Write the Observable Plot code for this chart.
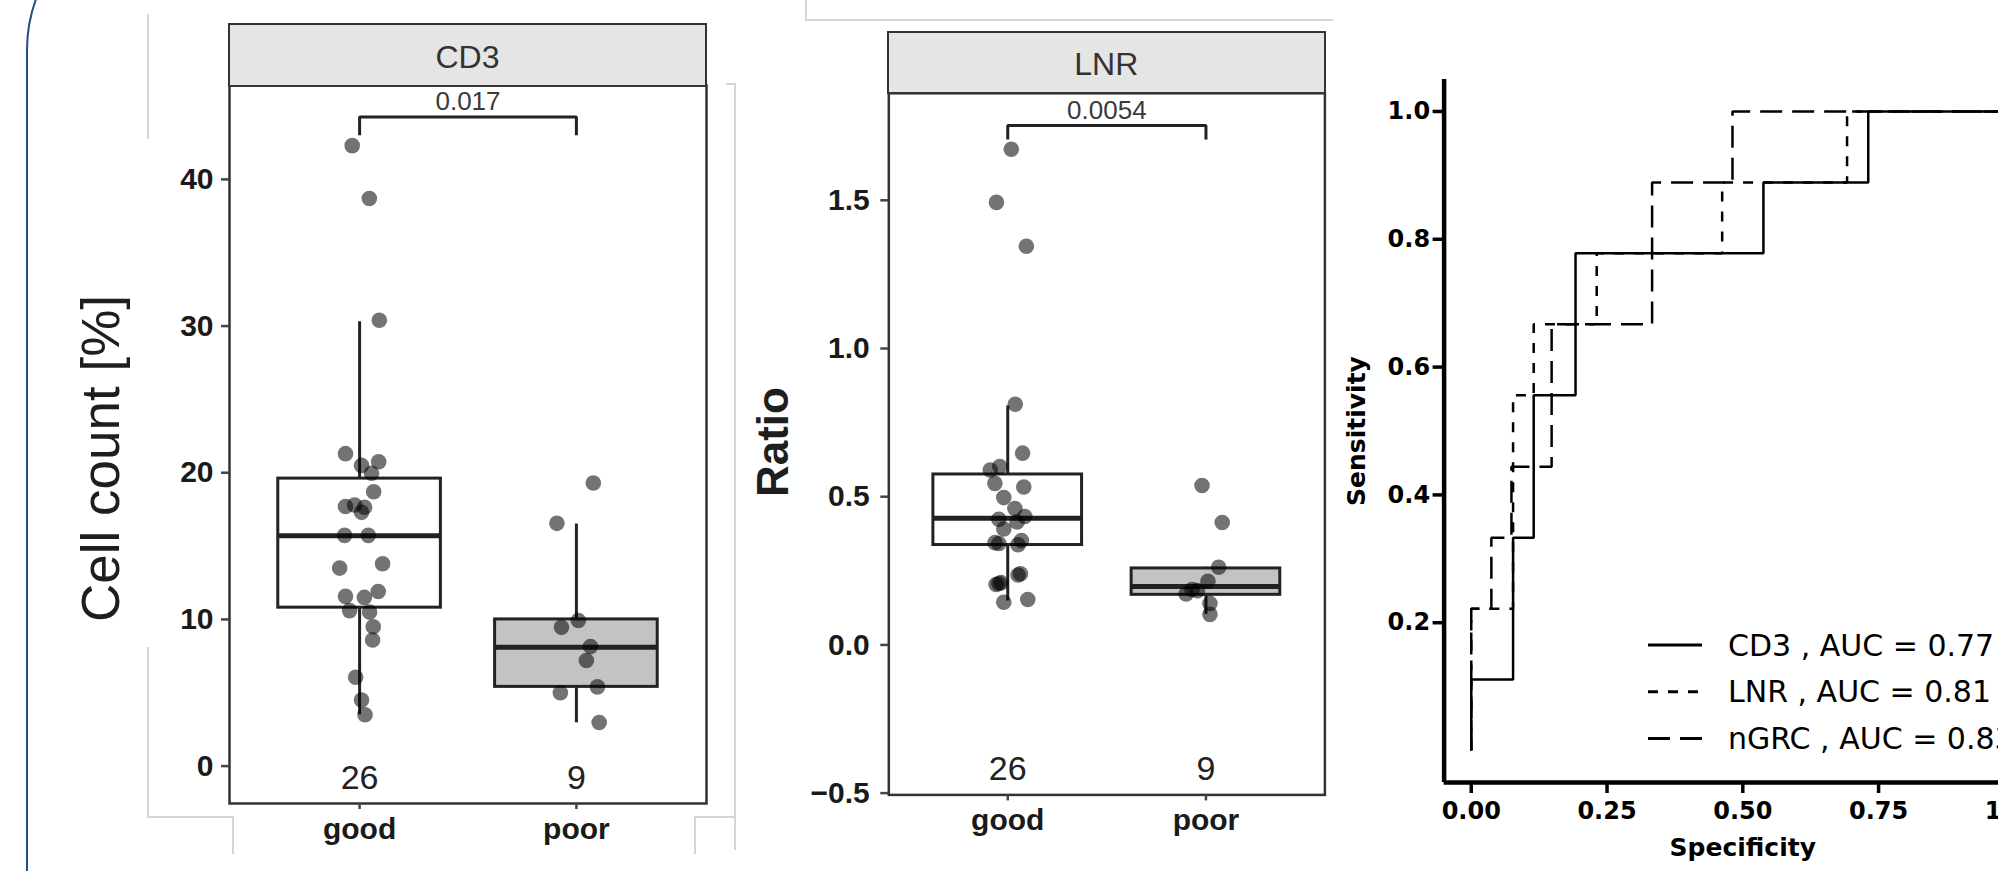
<!DOCTYPE html>
<html>
<head>
<meta charset="utf-8">
<script src="https://cdn.jsdelivr.net/npm/d3@7"></script>
<script src="https://cdn.jsdelivr.net/npm/@observablehq/plot@0.6"></script>
<style>
  html, body { margin: 0; padding: 0; background: #fff; }
  body { width: 1998px; height: 871px; overflow: hidden; position: relative; font-family: "Liberation Sans", Arial, sans-serif; }
  .abs { position: absolute; }
  .strip { position: absolute; box-sizing: border-box; background: #e5e5e5; border: 2.5px solid #333;
           display: flex; align-items: center; justify-content: center; font-size: 32px; color: #333; padding-top: 5px; }
  .faint { position: absolute; background: #d6d6d6; }
  .frameblue { position: absolute; left: 25.5px; top: -100px; width: 3000px; height: 1300px; box-sizing: border-box;
               border: 2.5px solid #1f4d8a; border-radius: 150px; }
</style>
</head>
<body>
<div class="frameblue"></div>
<!-- faint background frame fragments -->
<div class="faint" style="left:147px;top:14px;width:1.5px;height:125px"></div>
<div class="faint" style="left:147px;top:647px;width:1.5px;height:170px"></div>
<div class="faint" style="left:147px;top:816px;width:86px;height:1.5px"></div>
<div class="faint" style="left:232px;top:816px;width:1.5px;height:38px"></div>
<div class="faint" style="left:694px;top:816px;width:41px;height:1.5px"></div>
<div class="faint" style="left:694px;top:816px;width:1.5px;height:38px"></div>
<div class="faint" style="left:726px;top:83px;width:9px;height:1.5px"></div>
<div class="faint" style="left:734px;top:83px;width:1.5px;height:767px"></div>
<div class="faint" style="left:805px;top:0px;width:1.5px;height:20px"></div>
<div class="faint" style="left:805px;top:19px;width:528px;height:1.5px"></div>

<div id="p1" class="abs" style="left:0px;top:0px;width:740px;height:871px"></div>
<div id="p2" class="abs" style="left:740px;top:0px;width:600px;height:871px"></div>
<div id="p3" class="abs" style="left:1300px;top:0px;width:761px;height:871px"></div>
<div class="strip" style="left:227.75px;top:23px;width:479.5px;height:63.5px">CD3</div>
<div class="strip" style="left:887px;top:30.5px;width:438.6px;height:63.5px">LNR</div>
<div id="legend" class="abs" style="left:1600px;top:600px;width:420px;height:180px"></div>

<script>
// ---------------- data ----------------
const groups = ["good", "poor"];
const counts = [26, 9];

// CD3 panel (Cell count [%])
const cd3GoodValues = [42.3, 38.7, 30.4, 21.3, 20.5, 20.75, 19.96, 18.7, 17.7, 17.8, 17.65, 17.3, 15.73, 15.73, 13.5, 13.8, 11.57, 11.5, 11.9, 10.6, 10.5, 9.5, 8.6, 6.06, 4.5, 3.5];
const cd3GoodJitter = [-0.034, 0.045, 0.091, -0.065, 0.009, 0.088, 0.055, 0.065, -0.065, -0.023, 0.023, 0.009, -0.069, 0.040, -0.092, 0.106, -0.065, 0.022, 0.086, -0.046, 0.046, 0.063, 0.060, -0.018, 0.009, 0.025];
const cd3PoorValues = [19.3, 16.55, 9.46, 9.93, 8.15, 7.2, 5.0, 5.4, 2.97];
const cd3PoorJitter = [0.078, -0.090, -0.069, 0.009, 0.065, 0.046, -0.074, 0.097, 0.105];
const cd3Low = [3.5, 2.95];
const cd3Q1 = [10.8, 5.4];
const cd3Median = [15.7, 8.1];
const cd3Q3 = [19.6, 10.0];
const cd3High = [30.3, 16.5];
const cd3YTicks = [0, 10, 20, 30, 40];
const cd3PValue = "0.017";
const cd3Bracket = [43.0, 44.26];   // tip, bar
const cd3PLabelY = 45.33;
const cd3CountY = -0.85;

// LNR panel (Ratio)
const lnrGoodValues = [1.672, 1.493, 1.345, 0.812, 0.647, 0.590, 0.602, 0.545, 0.533, 0.497, 0.460, 0.433, 0.424, 0.391, 0.415, 0.342, 0.352, 0.338, 0.240, 0.207, 0.204, 0.144, 0.153, 0.345, 0.236, 0.210];
const lnrGoodJitter = [0.018, -0.057, 0.094, 0.038, 0.075, -0.088, -0.040, -0.065, 0.081, -0.020, 0.036, 0.086, -0.045, -0.020, 0.047, -0.045, 0.069, 0.052, 0.064, -0.045, -0.059, -0.020, 0.101, -0.064, 0.052, -0.034];
const lnrPoorValues = [0.538, 0.413, 0.262, 0.215, 0.187, 0.172, 0.183, 0.140, 0.103];
const lnrPoorJitter = [-0.020, 0.082, 0.064, 0.010, -0.070, -0.100, -0.043, 0.020, 0.020];
const lnrLow = [0.148, 0.103];
const lnrQ1 = [0.337, 0.169];
const lnrMedian = [0.427, 0.197];
const lnrQ3 = [0.575, 0.258];
const lnrHigh = [0.806, 0.262];
const lnrYTicks = [-0.5, 0, 0.5, 1.0, 1.5];
const lnrPValue = "0.0054";
const lnrBracket = [1.705, 1.752];
const lnrPLabelY = 1.803;
const lnrCountY = -0.42;

// ROC curves (corner points of the step functions)
const cd3Spec  = [0, 0, 0.077, 0.077, 0.115, 0.115, 0.192, 0.192, 0.538, 0.538, 0.731, 0.731, 1.0];
const cd3Sens  = [0, 0.111, 0.111, 0.333, 0.333, 0.556, 0.556, 0.778, 0.778, 0.889, 0.889, 1.0, 1.0];
const lnrSpec  = [0, 0, 0.077, 0.077, 0.115, 0.115, 0.231, 0.231, 0.462, 0.462, 0.692, 0.692, 1.0];
const lnrSens  = [0, 0.222, 0.222, 0.556, 0.556, 0.667, 0.667, 0.778, 0.778, 0.889, 0.889, 1.0, 1.0];
const ngrcSpec = [0, 0, 0.037, 0.037, 0.074, 0.074, 0.148, 0.148, 0.333, 0.333, 0.481, 0.481, 1.0];
const ngrcSens = [0, 0.222, 0.222, 0.333, 0.333, 0.444, 0.444, 0.667, 0.667, 0.889, 0.889, 1.0, 1.0];
const rocXTicks = [0, 0.25, 0.5, 0.75, 1.0];
const rocYTicks = [0.2, 0.4, 0.6, 0.8, 1.0];
const legendLabels = ["CD3 , AUC = 0.77", "LNR , AUC = 0.81", "nGRC , AUC = 0.83"];

// ---------------- styles ----------------
const sansFont = "'Liberation Sans', Arial, sans-serif";
const rocFont = "'DejaVu Sans', sans-serif";
const boxFill = ["#ffffff", "#c3c3c3"];
const halfBox = 0.375;
const dashes = [null, "10,10", "22,10"];

function boxPanel(cfg) {
  const pts = [];
  cfg.values.forEach((vals, g) => vals.forEach((v, i) => pts.push({x: g + 1 + cfg.jitter[g][i], y: v})));
  const rows = groups.map((g, i) => ({pos: i + 1, lo: cfg.lo[i], q1: cfg.q1[i], med: cfg.med[i], q3: cfg.q3[i], hi: cfg.hi[i]}));
  const bracket = [
    {x: 1, y: cfg.bracket[0]}, {x: 1, y: cfg.bracket[1]},
    {x: 2, y: cfg.bracket[1]}, {x: 2, y: cfg.bracket[0]}
  ];
  return Plot.plot({
    width: cfg.width, height: 871,
    marginLeft: cfg.ml, marginRight: cfg.mr, marginTop: cfg.mt, marginBottom: cfg.mb,
    style: {background: "transparent", maxWidth: "none", fontFamily: sansFont, overflow: "visible"},
    x: {domain: [0.4, 2.6]},
    y: {domain: cfg.yDomain},
    marks: [
      Plot.ruleX(rows, {x: "pos", y1: "lo", y2: "hi", stroke: "#222", strokeWidth: 3}),
      ...rows.map((r, i) => Plot.rect([r], {
        x1: d => d.pos - halfBox, x2: d => d.pos + halfBox, y1: "q1", y2: "q3",
        fill: boxFill[i], stroke: "#222", strokeWidth: 3
      })),
      Plot.ruleY(rows, {x1: d => d.pos - halfBox, x2: d => d.pos + halfBox, y: "med", stroke: "#222", strokeWidth: 5}),
      Plot.dot(pts, {x: "x", y: "y", r: 7.8, fill: "#000", fillOpacity: 0.55, stroke: "none"}),
      Plot.line(bracket, {x: "x", y: "y", stroke: "#222", strokeWidth: 3, strokeLinejoin: "miter", strokeLinecap: "butt"}),
      Plot.text([cfg.pValue], {x: 1.5, y: cfg.pLabelY, text: d => d, fontSize: 26, fill: "#3a3a3a", fontFamily: sansFont}),
      Plot.text(groups, {x: (d, i) => i + 1, y: cfg.countY, text: (d, i) => String(counts[i]), fontSize: 34, fill: "#222", fontFamily: sansFont}),
      Plot.frame({stroke: "#333", strokeWidth: 2.5}),
      Plot.axisY({ticks: cfg.yTicks, tickFormat: cfg.yFormat, tickSize: 8, tickPadding: cfg.yPad,
        stroke: "#444", strokeWidth: 2.5, fill: "#1a1a1a", fontWeight: "bold", fontSize: 30, fontFamily: sansFont, label: null}),
      Plot.axisX({ticks: [1, 2], tickFormat: d => groups[d - 1], tickSize: 6, tickPadding: 8,
        stroke: "#444", strokeWidth: 2.5, fill: "#1a1a1a", fontWeight: "bold", fontSize: 30, fontFamily: sansFont, label: null}),
      Plot.text([cfg.yLabel], {frameAnchor: "left", dx: cfg.yLabelDx, dy: cfg.yLabelDy, rotate: -90, text: d => d,
        textAnchor: "middle", lineAnchor: "middle",
        fontSize: cfg.yLabelSize, fontWeight: cfg.yLabelWeight, fill: "#1e1e1e", fontFamily: sansFont})
    ]
  });
}

document.getElementById("p1").appendChild(boxPanel({
  width: 740, ml: 229, mr: 34, mt: 85, mb: 68,
  values: [cd3GoodValues, cd3PoorValues], jitter: [cd3GoodJitter, cd3PoorJitter],
  lo: cd3Low, q1: cd3Q1, med: cd3Median, q3: cd3Q3, hi: cd3High,
  yDomain: [-2.55, 46.4], yTicks: cd3YTicks, yFormat: d3.format("d"), yPad: 8,
  pValue: cd3PValue, bracket: cd3Bracket, pLabelY: cd3PLabelY, countY: cd3CountY,
  yLabel: "Cell count [%]", yLabelDx: -127, yLabelDy: 14, yLabelSize: 53, yLabelWeight: "normal"
}));

document.getElementById("p2").appendChild(boxPanel({
  width: 600, ml: 148.3, mr: 15.6, mt: 92.8, mb: 76.6,
  values: [lnrGoodValues, lnrPoorValues], jitter: [lnrGoodJitter, lnrPoorJitter],
  lo: lnrLow, q1: lnrQ1, med: lnrMedian, q3: lnrQ3, hi: lnrHigh,
  yDomain: [-0.506, 1.861], yTicks: lnrYTicks, yFormat: d3.format(".1f"), yPad: 11,
  pValue: lnrPValue, bracket: lnrBracket, pLabelY: lnrPLabelY, countY: lnrCountY,
  yLabel: "Ratio", yLabelDx: -114.7, yLabelDy: -2, yLabelSize: 44, yLabelWeight: "bold"
}));

// ---------------- ROC ----------------
const rocSeries = [
  {spec: cd3Spec, sens: cd3Sens},
  {spec: lnrSpec, sens: lnrSens},
  {spec: ngrcSpec, sens: ngrcSens}
];
const rocDomain = [-0.05, 1.05];
document.getElementById("p3").appendChild(Plot.plot({
  width: 761, height: 871, marginLeft: 143.6, marginRight: 20, marginTop: 79, marginBottom: 89,
  style: {background: "transparent", maxWidth: "none", fontFamily: rocFont, overflow: "visible"},
  x: {domain: rocDomain},
  y: {domain: rocDomain},
  marks: [
    ...rocSeries.map((s, k) => Plot.line(s.spec.map((v, i) => ({x: v, y: s.sens[i]})), {
      x: "x", y: "y", stroke: "#000", strokeWidth: 2.5, strokeDasharray: dashes[k],
      strokeLinecap: "butt", strokeLinejoin: "miter"
    })),
    Plot.ruleX([rocDomain[0]], {stroke: "#000", strokeWidth: 4.5}),
    Plot.ruleY([rocDomain[0]], {stroke: "#000", strokeWidth: 4.5}),
    Plot.axisY({ticks: rocYTicks, tickFormat: d3.format(".1f"), tickSize: 11, tickPadding: 3,
      stroke: "#000", strokeWidth: 3.5, fill: "#000", fontWeight: "bold", fontSize: 24, fontFamily: rocFont, label: null}),
    Plot.axisX({ticks: rocXTicks, tickFormat: d3.format(".2f"), tickSize: 11, tickPadding: 8,
      stroke: "#000", strokeWidth: 3.5, fill: "#000", fontWeight: "bold", fontSize: 24, fontFamily: rocFont, label: null}),
    Plot.text(["Specificity"], {frameAnchor: "bottom", dy: 65, text: d => d, lineAnchor: "middle", textAnchor: "middle",
      fontSize: 25, fontWeight: "bold", fill: "#000", fontFamily: rocFont}),
    Plot.text(["Sensitivity"], {frameAnchor: "left", dx: -86.8, rotate: -90, text: d => d, lineAnchor: "middle", textAnchor: "middle",
      fontSize: 25, fontWeight: "bold", fill: "#000", fontFamily: rocFont})
  ]
}));

// legend
const lg = d3.select("#legend").append("svg").attr("width", 420).attr("height", 180).style("overflow", "visible");
legendLabels.forEach((lab, i) => {
  const y = 45 + i * 46.7;
  lg.append("line").attr("x1", 48).attr("x2", 102).attr("y1", y).attr("y2", y)
    .attr("stroke", "#000").attr("stroke-width", 3).attr("stroke-dasharray", dashes[i]);
  lg.append("text").attr("x", 128).attr("y", y).attr("dominant-baseline", "central")
    .attr("font-family", rocFont).attr("font-size", 30).attr("fill", "#000").text(lab);
});
</script>
</body>
</html>
